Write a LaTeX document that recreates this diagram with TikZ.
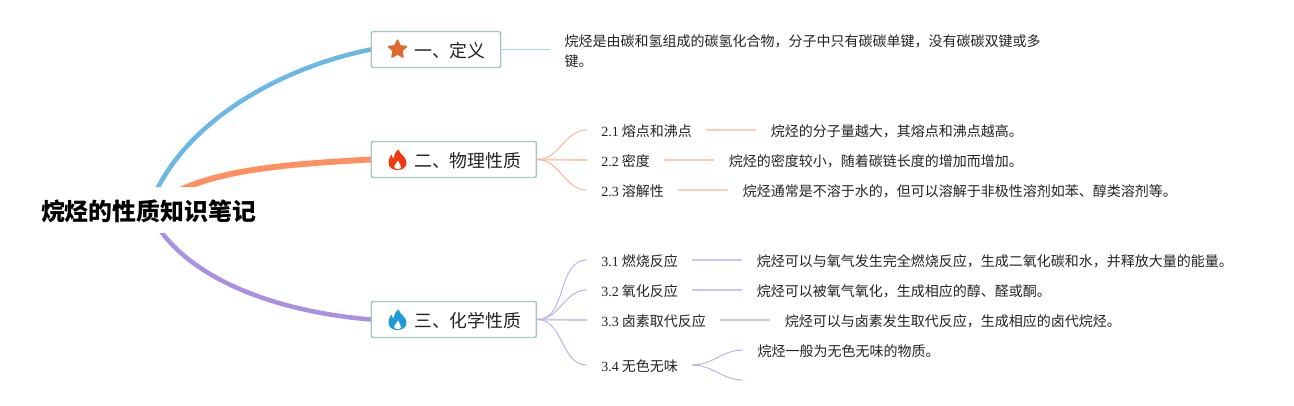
\documentclass[tikz,border=0pt]{standalone}
\usepackage{fontspec}
\setmainfont{Noto Sans CJK SC}
\newfontfamily\latinf{Liberation Serif}
\newcommand{\numf}[1]{{\latinf #1}}
\usepackage{tikz}
\usetikzlibrary{arrows.meta,positioning,shapes.geometric,backgrounds}
\usepackage{xcolor}

\definecolor{boxline}{HTML}{A9C5BD}
\definecolor{blueM}{HTML}{6CB8E4}
\definecolor{blueL}{HTML}{ABD6EC}
\definecolor{orangeM}{HTML}{FF8F5E}
\definecolor{orangeT}{HTML}{F2AD90}
\definecolor{orangeL}{HTML}{F8CDB8}
\definecolor{purpleM}{HTML}{AB8FE2}
\definecolor{purpleT}{HTML}{B9A8E4}
\definecolor{purpleL}{HTML}{CFC4EC}
\definecolor{txtcol}{HTML}{222222}
\definecolor{stariconcol}{HTML}{E0692F}
\definecolor{flamered}{HTML}{F03A10}
\definecolor{flameblue}{HTML}{2098DC}

\begin{document}
\begin{tikzpicture}[
        x=0.75pt, y=-0.75pt,
        % Node styles
        rootnode/.style={rectangle, fill=white, inner sep=0pt, minimum width=215*0.75pt, minimum height=46*0.75pt, text height=18pt, text depth=1.8pt, font=\fontsize{17.9pt}{20pt}\selectfont\bfseries, text=black},
        topicbox/.style={rectangle, rounded corners=1.5pt, draw=boxline, line width=1.1pt, fill=white, anchor=west, inner xsep=11.25pt, inner ysep=0pt, minimum height=36*0.75pt, text height=14.5pt, text depth=3pt, font=\fontsize{13.4pt}{16pt}\selectfont, text=txtcol},
        leaflbl/.style={anchor=west, inner xsep=10.5pt, inner ysep=0pt, text height=11.3pt, text depth=2pt, font=\fontsize{10.5pt}{15pt}\selectfont, text=txtcol},
        leaftxt/.style={leaflbl, inner xsep=10.8pt},
        % Connector styles
        mainline/.style={line width=#1, line cap=round},
        twig/.style={line width=0.65pt},
        stem/.style={line width=1.4pt},
        staricon/.style={star, star points=5, star point ratio=2.1, fill=#1, draw=#1, line join=round, line width=1.2pt, inner sep=0pt, minimum size=14pt},
        flame/.pic={
            \fill[#1] (1,-10) .. controls (2,-5) and (9,-3) .. (9,3) .. controls (9,8) and (5,10.5) .. (0,10.5)
                .. controls (-5,10.5) and (-9,8) .. (-9,3) .. controls (-9,-1) and (-7,-3) .. (-6,-5)
                .. controls (-5.5,-3) and (-5,-2) .. (-3.5,-1) .. controls (-3.5,-5) and (-2,-8) .. (1,-10) -- cycle;
            \fill[white] (0.5,1) .. controls (1,4) and (4,5) .. (3.5,8) .. controls (3,10) and (-2,10) .. (-3,8)
                .. controls (-4,6) and (-1,4) .. (0.5,1) -- cycle;
        }
    ]

    \useasboundingbox (0,0) rectangle (1294,405);

    % Central topic
    \node[rootnode] (root) at (148.5,210) {烷烃的性质知识笔记};

    % Main topics
    \node[topicbox] (defbox) at (370.5,49.5) {\hspace*{21pt}一、定义};
    \node[topicbox] (phybox) at (370.5,159.5) {\hspace*{21pt}二、物理性质};
    \node[topicbox] (chembox) at (370.5,319.5) {\hspace*{21pt}三、化学性质};

    % Icons
    \node[staricon=stariconcol] (defstar) at ([xshift=20.25pt]defbox.west) {};
    \pic at ([xshift=20.25pt]phybox.west) {flame=flamered};
    \pic at ([xshift=20.25pt]chembox.west) {flame=flameblue};

    % Definition
    \node[leaftxt, align=left, text height=, text depth=] (deftxt) at (550,51) {烷烃是由碳和氢组成的碳氢化合物，分子中只有碳碳单键，没有碳碳双键或多\\键。};

    % Physical properties
    \node[leaflbl] (meltlbl) at (587,130) {\numf{2.1} 熔点和沸点};
    \node[leaftxt, right=37.5pt of meltlbl] (melttxt) {烷烃的分子量越大，其熔点和沸点越高。};
    \node[leaflbl] (denslbl) at (587,160) {\numf{2.2} 密度};
    \node[leaftxt, right=37.5pt of denslbl] (denstxt) {烷烃的密度较小，随着碳链长度的增加而增加。};
    \node[leaflbl] (sollbl) at (587,190) {\numf{2.3} 溶解性};
    \node[leaftxt, right=37.5pt of sollbl] (soltxt) {烷烃通常是不溶于水的，但可以溶解于非极性溶剂如苯、醇类溶剂等。};

    % Chemical properties
    \node[leaflbl] (burnlbl) at (587,260) {\numf{3.1} 燃烧反应};
    \node[leaftxt, right=37.5pt of burnlbl] (burntxt) {烷烃可以与氧气发生完全燃烧反应，生成二氧化碳和水，并释放大量的能量。};
    \node[leaflbl] (oxilbl) at (587,290) {\numf{3.2} 氧化反应};
    \node[leaftxt, right=37.5pt of oxilbl] (oxitxt) {烷烃可以被氧气氧化，生成相应的醇、醛或酮。};
    \node[leaflbl] (hallbl) at (587,320) {\numf{3.3} 卤素取代反应};
    \node[leaftxt, right=37.5pt of hallbl] (haltxt) {烷烃可以与卤素发生取代反应，生成相应的卤代烷烃。};
    \node[leaflbl] (colorlbl) at (587,365) {\numf{3.4} 无色无味};
    \node[leaftxt] (colortxt) at (743,350) {烷烃一般为无色无味的物质。};
    \coordinate (colorend) at (743,380);

    % Thick branches, kept behind the central topic
    \begin{scope}[on background layer]
        \draw[mainline=3.4pt, blueM] (root.center) .. controls (175,130) and (270,70) .. (defbox.west);
        \draw[mainline=4.4pt, orangeM] (root.center) .. controls (192,172) and (270,165) .. (phybox.west);
        \draw[mainline=3.4pt, purpleM] (root.center) .. controls (175,270) and (260,310) .. (chembox.west);
    \end{scope}

    % Definition line
    \draw[stem, blueL] (defbox.east) -- (defbox.east -| deftxt.west);

    % Physical branches
    \draw[twig, orangeT] (phybox.east) to[out=0, in=180] (meltlbl.west);
    \draw[stem, orangeL] (phybox.east) -- (denslbl.west);
    \draw[twig, orangeT] (phybox.east) to[out=0, in=180] (sollbl.west);
    \draw[stem, orangeL] (meltlbl.east) -- (melttxt.west);
    \draw[stem, orangeL] (denslbl.east) -- (denstxt.west);
    \draw[stem, orangeL] (sollbl.east) -- (soltxt.west);

    % Chemical branches
    \draw[twig, purpleT] (chembox.east) to[out=0, in=180] (burnlbl.west);
    \draw[twig, purpleT] (chembox.east) to[out=0, in=180] (oxilbl.west);
    \draw[stem, purpleL] (chembox.east) -- (hallbl.west);
    \draw[twig, purpleT] (chembox.east) to[out=0, in=180] (colorlbl.west);
    \draw[stem, purpleL] (burnlbl.east) -- (burntxt.west);
    \draw[stem, purpleL] (oxilbl.east) -- (oxitxt.west);
    \draw[stem, purpleL] (hallbl.east) -- (haltxt.west);
    \draw[twig, purpleT] (colorlbl.east) to[out=0, in=180] (colortxt.west);
    \draw[twig, purpleT] (colorlbl.east) to[out=0, in=180] (colorend);

    \end{tikzpicture}
\end{document}
